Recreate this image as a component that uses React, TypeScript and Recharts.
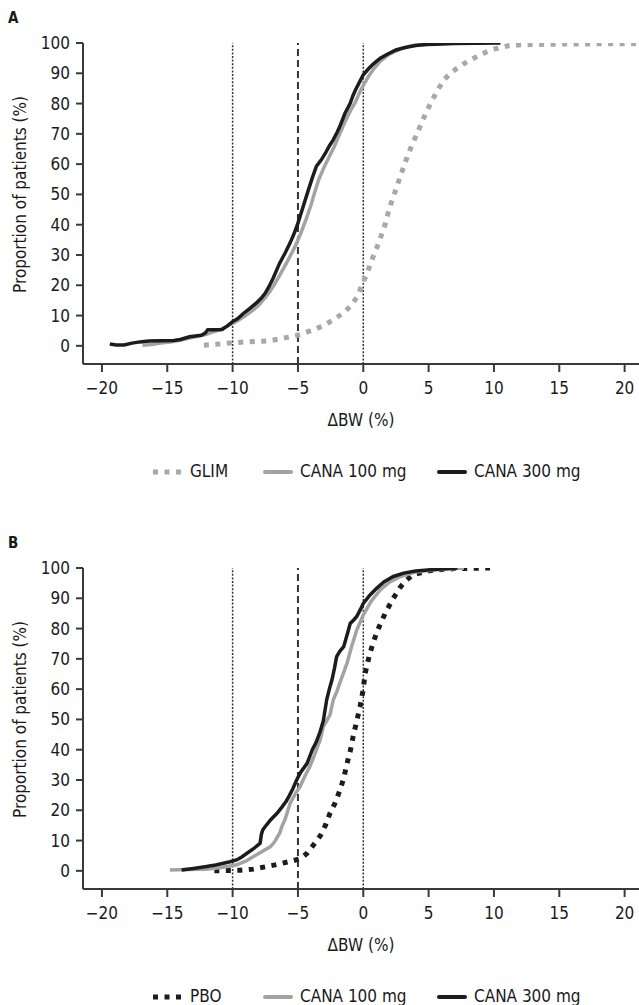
import React from "react";
import { LineChart, Line, XAxis, YAxis, ReferenceLine, Label } from "recharts";

type Pt = [number, number];

const FONT = '"Liberation Sans Narrow", "Arial Narrow", "DejaVu Sans Condensed", "Roboto", sans-serif';

const xTicks = [-20, -15, -10, -5, 0, 5, 10, 15, 20];
const yTicks = [0, 10, 20, 30, 40, 50, 60, 70, 80, 90, 100];

// panel A: GLIM vs CANA
const glimA: Pt[] = [
  [-12.2, 0.2], [-11.0, 0.6], [-10.0, 1.0], [-9.0, 1.3], [-8.0, 1.5], [-7.2, 1.6], [-6.5, 2.2],
  [-5.8, 2.8], [-5.2, 3.3], [-4.5, 4.3], [-3.8, 5.3], [-3.0, 6.8], [-2.3, 8.6], [-1.6, 10.6],
  [-1.0, 13.0], [-0.5, 16.0], [0, 21.0], [0.3, 24.0], [0.6, 27.8], [1.0, 32.0], [1.3, 35.5],
  [1.7, 40.5], [2.0, 45.5], [2.4, 50.5], [2.8, 55.5], [3.2, 60.5], [3.6, 65.0], [4.0, 69.0],
  [4.4, 73.0], [4.8, 77.0], [5.2, 80.5], [5.7, 84.5], [6.2, 88.0], [6.8, 90.5], [7.4, 92.3],
  [8.0, 94.0], [8.7, 95.5], [9.4, 97.0], [10.2, 98.2], [11.0, 99.0], [12.0, 99.4], [14.0, 99.6],
  [17.0, 99.7], [21.0, 99.8],
];

const cana100A: Pt[] = [
  [-16.9, 0.2], [-16.2, 0.4], [-15.5, 0.9], [-14.8, 1.3], [-14.0, 1.8], [-13.3, 2.6], [-12.6, 3.2],
  [-12.0, 3.8], [-11.5, 4.6], [-11.0, 5.3], [-10.5, 6.3], [-10.0, 7.4], [-9.5, 8.6], [-9.0, 10.0],
  [-8.5, 11.6], [-8.0, 13.4], [-7.6, 15.4], [-7.2, 17.6], [-6.8, 20.3], [-6.4, 23.3], [-6.0, 26.4],
  [-5.6, 29.6], [-5.2, 33.0], [-4.8, 37.0], [-4.4, 41.5], [-4.0, 46.5], [-3.7, 51.0], [-3.4, 55.0],
  [-3.0, 59.0], [-2.6, 62.5], [-2.2, 66.0], [-1.8, 70.0], [-1.4, 74.0], [-1.0, 77.5], [-0.6, 80.5],
  [-0.3, 83.5], [0, 86.0], [0.4, 89.0], [0.8, 91.5], [1.3, 94.0], [2.0, 96.3], [2.8, 98.0],
  [3.8, 99.2], [5.0, 99.6], [6.0, 99.8], [7.0, 100],
];

const cana300A: Pt[] = [
  [-19.4, 0.6], [-18.9, 0.3], [-18.3, 0.3], [-17.7, 0.9], [-17.1, 1.3], [-16.4, 1.6], [-15.5, 1.7],
  [-14.5, 1.8], [-14.0, 2.1], [-13.3, 3.0], [-12.4, 3.5], [-12.1, 4.2], [-11.9, 5.3], [-11.3, 5.3],
  [-10.8, 5.4], [-10.4, 6.6], [-10.0, 8.0], [-9.6, 9.0], [-9.2, 10.6], [-8.7, 12.3], [-8.2, 14.1],
  [-7.8, 15.8], [-7.5, 17.4], [-7.2, 19.7], [-6.9, 22.3], [-6.4, 27.3], [-6.0, 30.5], [-5.6, 34.0],
  [-5.3, 37.0], [-5.0, 40.5], [-4.6, 46.0], [-4.2, 51.5], [-3.9, 55.5], [-3.6, 59.2], [-3.2, 61.5],
  [-2.9, 63.6], [-2.6, 66.0], [-2.3, 68.0], [-2.0, 70.5], [-1.8, 72.4], [-1.4, 76.8], [-1.0, 80.1],
  [-0.8, 82.5], [-0.6, 84.5], [-0.3, 87.0], [0, 89.5], [0.4, 91.5], [0.8, 93.2], [1.3, 95.0],
  [1.8, 96.2], [2.5, 97.7], [3.2, 98.5], [4.0, 99.2], [4.8, 99.5], [5.5, 99.6], [7.0, 99.8],
  [8.5, 99.9], [10.5, 100],
];

// panel B: PBO vs CANA
const pboB: Pt[] = [
  [-11.4, 0], [-10.5, 0.1], [-9.4, 0.2], [-8.4, 0.6], [-7.4, 1.4], [-6.5, 2.2], [-5.6, 3.1],
  [-4.8, 4.0], [-4.3, 5.8], [-3.8, 8.6], [-3.3, 11.5], [-2.9, 15.0], [-2.55, 19.0], [-2.2, 22.0],
  [-1.8, 26.5], [-1.5, 30.5], [-1.27, 35.0], [-1.0, 39.5], [-0.77, 44.5], [-0.5, 49.5], [-0.25, 54.2],
  [0, 60.0], [0.13, 65.0], [0.5, 71.8], [1.0, 78.4], [1.4, 82.5], [1.8, 86.1], [2.3, 90.0],
  [2.8, 93.5], [3.3, 96.0], [3.8, 97.7], [4.6, 98.7], [5.4, 99.3], [7.0, 99.8], [9.7, 100],
];

const cana100B: Pt[] = [
  [-14.8, 0.3], [-13.5, 0.4], [-12.0, 0.5], [-11.0, 1.0], [-10.3, 1.5], [-9.7, 2.0], [-9.0, 3.2],
  [-8.4, 4.7], [-7.8, 6.2], [-7.1, 8.0], [-6.8, 9.5], [-6.6, 11.0], [-6.4, 12.4], [-6.2, 15.0],
  [-6.0, 16.8], [-5.8, 19.5], [-5.6, 22.3], [-5.2, 25.5], [-4.84, 27.8], [-4.5, 31.0], [-4.1, 34.4],
  [-3.8, 37.5], [-3.5, 41.0], [-3.3, 43.2], [-3.06, 47.6], [-2.8, 49.5], [-2.55, 51.5], [-2.3, 56.4],
  [-2.0, 59.5], [-1.8, 62.0], [-1.5, 65.5], [-1.25, 68.5], [-0.9, 74.0], [-0.5, 79.5], [0, 84.5],
  [0.6, 89.0], [1.28, 92.7], [2.0, 95.3], [2.8, 97.1], [4.0, 98.7], [5.4, 99.3], [7.7, 100],
];

const cana300B: Pt[] = [
  [-13.9, 0.3], [-13.0, 0.8], [-12.0, 1.4], [-11.3, 1.9], [-10.7, 2.5], [-10.2, 3.0], [-9.7, 3.6],
  [-9.3, 4.6], [-8.9, 5.8], [-8.4, 7.3], [-7.9, 9.1], [-7.8, 12.0], [-7.7, 13.5], [-7.4, 15.2],
  [-7.1, 16.8], [-6.6, 19.0], [-6.2, 21.2], [-5.9, 23.0], [-5.7, 24.5], [-5.4, 27.0], [-5.1, 30.0],
  [-4.8, 32.5], [-4.3, 35.5], [-3.9, 40.0], [-3.6, 42.5], [-3.3, 46.0], [-3.06, 49.5], [-2.8, 56.5],
  [-2.6, 60.0], [-2.4, 63.0], [-2.2, 67.0], [-2.04, 70.7], [-1.8, 72.5], [-1.5, 74.0], [-1.2, 78.5],
  [-1.0, 81.7], [-0.7, 83.0], [-0.5, 84.0], [-0.2, 86.5], [0, 88.3], [0.5, 91.0], [1.0, 93.2],
  [1.6, 95.5], [2.3, 97.2], [3.1, 98.3], [4.0, 99.0], [5.4, 99.5], [7.2, 100],
];

const legendA = ["GLIM", "CANA 100 mg", "CANA 300 mg"];
const legendB = ["PBO", "CANA 100 mg", "CANA 300 mg"];

const rows = (pts: Pt[]) => pts.map(([x, y]) => ({ x, y }));
const fmtX = (v: number) => (v < 0 ? `\u2212${-v}` : `${v}`);

const AXIS = "#3a3a3a";
const TXT = "#1a1a1a";
const GRAY = "#a3a3a3";
const BLACK = "#1c1c1c";

function YTitle(props: any) {
  const vb = props.viewBox || {};
  const cy = vb.y + (vb.height * 50) / 106;
  return (
    <text
      x={26}
      y={cy}
      transform={`rotate(-90, 26, ${cy})`}
      textAnchor="middle"
      fill={TXT}
      fontSize={17}
      fontFamily={FONT}
    >
      Proportion of patients (%)
    </text>
  );
}

function Swatch({ dotted, color }: { dotted: boolean; color: string }) {
  return (
    <svg width={30} height={10} style={{ display: "block" }}>
      {dotted ? (
        <line x1={0} y1={5} x2={30} y2={5} stroke={color} strokeWidth={5} strokeDasharray="5 6.5" />
      ) : (
        <line x1={2} y1={5} x2={28} y2={5} stroke={color} strokeWidth={4} strokeLinecap="round" />
      )}
    </svg>
  );
}

function Panel({
  letter,
  top,
  dotted,
  dottedColor,
  gray,
  black,
  names,
}: {
  letter: string;
  top: number;
  dotted: Pt[];
  dottedColor: string;
  gray: Pt[];
  black: Pt[];
  names: string[];
}) {
  const legendLeft = [153, 263, 437];
  const legendColors = [dottedColor, GRAY, BLACK];
  return (
    <div style={{ position: "absolute", left: 0, top, width: 639, height: 500 }}>
      <div
        style={{
          position: "absolute",
          left: 8,
          top: 11,
          fontFamily: FONT,
          fontWeight: "bold",
          fontSize: 15,
          lineHeight: "15px",
          color: TXT,
        }}
      >
        {letter}
      </div>
      <LineChart width={639} height={450} margin={{ top: 43, right: 0, bottom: 0, left: 23 }}>
        <XAxis
          type="number"
          dataKey="x"
          domain={[-21.45, 21.1]}
          ticks={xTicks}
          interval={0}
          allowDataOverflow
          tickFormatter={fmtX}
          height={86}
          tickSize={8}
          tickMargin={10}
          axisLine={{ stroke: AXIS, strokeWidth: 2 }}
          tickLine={{ stroke: AXIS, strokeWidth: 2 }}
          tick={{ fill: TXT, fontSize: 17, fontFamily: FONT }}
        >
          <Label
            value={"\u0394BW (%)"}
            position="insideBottom"
            offset={24}
            fill={TXT}
            fontSize={17}
            fontFamily={FONT}
          />
        </XAxis>
        <YAxis
          type="number"
          domain={[-6, 100]}
          ticks={yTicks}
          interval={0}
          allowDataOverflow
          width={60}
          tickSize={7}
          tickMargin={6}
          axisLine={{ stroke: AXIS, strokeWidth: 2 }}
          tickLine={{ stroke: AXIS, strokeWidth: 2 }}
          tick={{ fill: TXT, fontSize: 17, fontFamily: FONT }}
        >
          <Label content={<YTitle />} />
        </YAxis>
        <ReferenceLine x={-10} stroke="#333" strokeWidth={1.5} strokeDasharray="2 1.6" />
        <ReferenceLine x={-5} stroke="#333" strokeWidth={2} strokeDasharray="7 4" />
        <ReferenceLine x={0} stroke="#333" strokeWidth={1.5} strokeDasharray="2 1.6" />
        <Line
          data={rows(dotted)}
          dataKey="y"
          type="linear"
          stroke={dottedColor}
          strokeWidth={5}
          strokeDasharray="5 6.5"
          dot={false}
          activeDot={false}
          isAnimationActive={false}
        />
        <Line
          data={rows(gray)}
          dataKey="y"
          type="linear"
          stroke={GRAY}
          strokeWidth={3.5}
          dot={false}
          activeDot={false}
          isAnimationActive={false}
        />
        <Line
          data={rows(black)}
          dataKey="y"
          type="linear"
          stroke={BLACK}
          strokeWidth={3.5}
          dot={false}
          activeDot={false}
          isAnimationActive={false}
        />
      </LineChart>
      {names.map((n, i) => (
        <div
          key={n}
          style={{
            position: "absolute",
            left: legendLeft[i],
            top: 463,
            display: "flex",
            alignItems: "center",
            fontFamily: FONT,
            fontSize: 17,
            lineHeight: "17px",
            color: TXT,
            whiteSpace: "nowrap",
          }}
        >
          <Swatch dotted={i === 0} color={legendColors[i]} />
          <span style={{ marginLeft: 7 }}>{n}</span>
        </div>
      ))}
    </div>
  );
}

export default function App() {
  return (
    <div style={{ position: "absolute", left: 0, top: 0, width: 639, height: 1005, background: "#fff" }}>
      <Panel letter="A" top={0} dotted={glimA} dottedColor="#a8a8a8" gray={cana100A} black={cana300A} names={legendA} />
      <Panel letter="B" top={525} dotted={pboB} dottedColor={BLACK} gray={cana100B} black={cana300B} names={legendB} />
    </div>
  );
}
